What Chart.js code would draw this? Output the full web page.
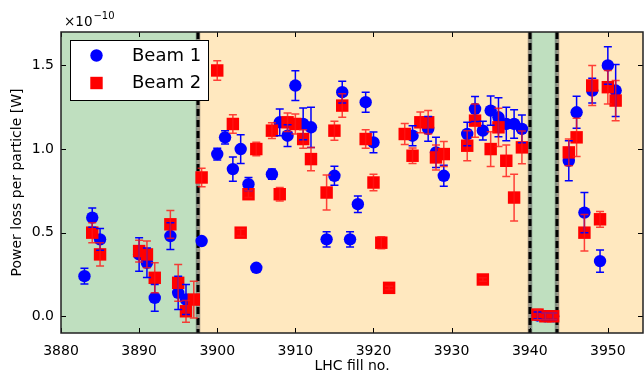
<!DOCTYPE html>
<html>
<head>
<meta charset="utf-8">
<script src="https://cdn.jsdelivr.net/npm/chart.js@4.4.1/dist/chart.umd.min.js"></script>
<style>
  html, body { margin: 0; padding: 0; background: #ffffff; }
  #wrap { position: relative; width: 644px; height: 375px; }
</style>
</head>
<body>
<div id="wrap"><canvas id="c" width="644" height="375"></canvas></div>
<script>
// Power loss per particle (units of 1e-10 W) for each LHC fill
const beam1Fills = [3883, 3884, 3885, 3890, 3891, 3892, 3894, 3895, 3896, 3898,
  3900, 3901, 3902, 3903, 3904, 3905, 3907, 3908, 3909, 3910, 3911, 3912,
  3914, 3915, 3916, 3917, 3918, 3919, 3920, 3925, 3927, 3928, 3929,
  3932, 3933, 3934, 3935, 3936, 3937, 3938, 3939, 3941, 3942, 3943,
  3945, 3946, 3947, 3948, 3949, 3950, 3951];
const beam1Loss = [0.24, 0.59, 0.46, 0.37, 0.32, 0.11, 0.48, 0.14, 0.10, 0.45,
  0.97, 1.07, 0.88, 1.00, 0.79, 0.29, 0.85, 1.16, 1.08, 1.38, 1.15, 1.13,
  0.46, 0.84, 1.34, 0.46, 0.67, 1.28, 1.04, 1.08, 1.12, 0.98, 0.84,
  1.09, 1.24, 1.11, 1.23, 1.19, 1.15, 1.15, 1.12, 0.005, 0.0, 0.0,
  0.93, 1.22, 0.62, 1.35, 0.33, 1.50, 1.35];
const beam1Err = [0.047, 0.057, 0.065, 0.10, 0.088, 0.08, 0.08, 0.10, 0.09, 0.02,
  0.035, 0.04, 0.072, 0.086, 0.04, 0.01, 0.03, 0.08, 0.065, 0.089, 0.095, 0.12,
  0.046, 0.057, 0.065, 0.045, 0.05, 0.06, 0.062, 0.06, 0.074, 0.09, 0.063,
  0.07, 0.075, 0.056, 0.087, 0.117, 0.10, 0.085, 0.083, 0.02, 0.02, 0.02,
  0.119, 0.096, 0.12, 0.074, 0.066, 0.112, 0.155];

const beam2Fills = [3884, 3885, 3890, 3891, 3892, 3894, 3895, 3896, 3897, 3898,
  3900, 3902, 3903, 3904, 3905, 3907, 3908, 3909, 3910, 3911, 3912,
  3914, 3915, 3916, 3919, 3920, 3921, 3922, 3924, 3925, 3926, 3927, 3928, 3929,
  3932, 3933, 3934, 3935, 3936, 3937, 3938, 3939, 3941, 3942, 3943,
  3945, 3946, 3947, 3948, 3949, 3950, 3951];
const beam2Loss = [0.50, 0.37, 0.39, 0.37, 0.23, 0.55, 0.20, 0.03, 0.10, 0.83,
  1.47, 1.15, 0.50, 0.73, 1.00, 1.11, 0.73, 1.16, 1.15, 1.06, 0.94,
  0.74, 1.11, 1.26, 1.06, 0.80, 0.44, 0.17, 1.09, 0.96, 1.16, 1.16, 0.95, 0.97,
  1.02, 1.17, 0.22, 1.00, 1.13, 0.93, 0.71, 1.01, 0.01, 0.0, 0.0,
  0.98, 1.07, 0.50, 1.38, 0.58, 1.37, 1.29];
const beam2Err = [0.06, 0.07, 0.065, 0.08, 0.09, 0.083, 0.11, 0.065, 0.11, 0.055,
  0.058, 0.055, 0.02, 0.02, 0.04, 0.047, 0.04, 0.055, 0.06, 0.055, 0.07,
  0.105, 0.057, 0.07, 0.055, 0.05, 0.036, 0.01, 0.063, 0.047, 0.062, 0.07, 0.075, 0.075,
  0.09, 0.10, 0.01, 0.104, 0.114, 0.094, 0.14, 0.098, 0.03, 0.02, 0.02,
  0.08, 0.114, 0.109, 0.119, 0.047, 0.10, 0.12];

// Beam-condition periods along the fill axis
const periodEdges = [3880, 3897.5, 3940, 3943.5, 3954.5];
const periodKinds = ['green', 'orange', 'green', 'orange'];

const xTicks = [3880, 3890, 3900, 3910, 3920, 3930, 3940, 3950];
const yTicks = [0.0, 0.5, 1.0, 1.5];

const FONT = '"DejaVu Sans", sans-serif';
const spanColor = { green: 'rgb(191,223,191)', orange: 'rgb(255,232,191)' };

function toPoints(xs, ys) { return xs.map((x, i) => ({ x: x, y: ys[i] })); }

const panelPlugin = {
  id: 'panel',
  beforeDatasetsDraw(chart) {
    const { ctx, chartArea: a, scales: { x, y } } = chart;
    ctx.save();
    ctx.beginPath(); ctx.rect(a.left, a.top, a.right - a.left, a.bottom - a.top); ctx.clip();
    for (let i = 0; i < periodKinds.length; i++) {
      const x0 = x.getPixelForValue(periodEdges[i]);
      const x1 = x.getPixelForValue(periodEdges[i + 1]);
      ctx.fillStyle = spanColor[periodKinds[i]];
      ctx.fillRect(x0, a.top, x1 - x0, a.bottom - a.top);
    }
    // boundaries between periods
    for (let i = 1; i < periodEdges.length - 1; i++) {
      const px = Math.round(x.getPixelForValue(periodEdges[i]));
      ctx.strokeStyle = 'rgba(90,90,90,0.6)';
      ctx.lineWidth = 4.5;
      ctx.setLineDash([]);
      ctx.beginPath(); ctx.moveTo(px, a.top); ctx.lineTo(px, a.bottom); ctx.stroke();
      ctx.strokeStyle = '#000';
      ctx.lineWidth = 3;
      ctx.setLineDash([7, 4]);
      ctx.beginPath(); ctx.moveTo(px, a.top); ctx.lineTo(px, a.bottom); ctx.stroke();
    }
    ctx.restore();
  },
  afterDatasetsDraw(chart) {
    const { ctx, chartArea: a, scales: { x, y } } = chart;
    ctx.save();
    ctx.beginPath(); ctx.rect(a.left, a.top, a.right - a.left, a.bottom - a.top); ctx.clip();
    const sets = [
      { xs: beam1Fills, ys: beam1Loss, es: beam1Err, color: 'rgb(0,0,255)' },
      { xs: beam2Fills, ys: beam2Loss, es: beam2Err, color: 'rgba(255,20,20,0.8)' }
    ];
    ctx.lineWidth = 1.5;
    sets.forEach(s => {
      ctx.strokeStyle = s.color;
      s.xs.forEach((fx, i) => {
        const px = x.getPixelForValue(fx);
        const yl = y.getPixelForValue(s.ys[i] - s.es[i]);
        const yh = y.getPixelForValue(s.ys[i] + s.es[i]);
        ctx.beginPath();
        ctx.moveTo(px, yl); ctx.lineTo(px, yh);
        ctx.moveTo(px - 4, yl); ctx.lineTo(px + 4, yl);
        ctx.moveTo(px - 4, yh); ctx.lineTo(px + 4, yh);
        ctx.stroke();
      });
    });
    ctx.restore();

    // frame with inward ticks on all four sides
    ctx.save();
    ctx.strokeStyle = '#000';
    ctx.lineWidth = 1;
    xTicks.forEach(t => {
      const px = Math.round(x.getPixelForValue(t)) + 0.5;
      ctx.beginPath();
      ctx.moveTo(px, a.bottom); ctx.lineTo(px, a.bottom - 5);
      ctx.moveTo(px, a.top); ctx.lineTo(px, a.top + 5);
      ctx.stroke();
    });
    yTicks.forEach(t => {
      const py = Math.round(y.getPixelForValue(t)) + 0.5;
      ctx.beginPath();
      ctx.moveTo(a.left, py); ctx.lineTo(a.left + 5, py);
      ctx.moveTo(a.right, py); ctx.lineTo(a.right - 5, py);
      ctx.stroke();
    });
    ctx.strokeStyle = '#222';
    ctx.lineWidth = 1.5;
    ctx.strokeRect(a.left, a.top, a.right - a.left, a.bottom - a.top);
    ctx.restore();
  },
  afterDraw(chart) {
    const { ctx, chartArea: a } = chart;
    ctx.save();
    // legend box
    const lx = 70.5, ly = 40.5, lw = 138, lh = 60;
    ctx.fillStyle = '#fff';
    ctx.fillRect(lx, ly, lw, lh);
    ctx.strokeStyle = '#000';
    ctx.lineWidth = 1;
    ctx.strokeRect(lx, ly, lw, lh);
    ctx.fillStyle = 'rgb(0,0,255)';
    ctx.beginPath(); ctx.arc(96.5, 55.5, 6.2, 0, Math.PI * 2); ctx.fill();
    ctx.fillStyle = 'rgb(255,0,0)';
    ctx.fillRect(96.5 - 6.2, 83 - 6.2, 12.4, 12.4);
    ctx.fillStyle = '#000';
    ctx.font = '18px ' + FONT;
    ctx.textBaseline = 'middle';
    ctx.textAlign = 'left';
    ctx.fillText('Beam 1', 132, 56);
    ctx.fillText('Beam 2', 132, 83);
    // axis multiplier
    ctx.textBaseline = 'alphabetic';
    ctx.font = '13.5px ' + FONT;
    ctx.fillText('\u00d710', a.left + 3, 26);
    const w = ctx.measureText('\u00d710').width;
    ctx.font = '10px ' + FONT;
    ctx.fillText('\u221210', a.left + 3 + w + 1, 19);
    ctx.restore();
  }
};

new Chart(document.getElementById('c'), {
  type: 'scatter',
  data: {
    datasets: [
      {
        label: 'Beam 1',
        data: toPoints(beam1Fills, beam1Loss),
        pointStyle: 'circle',
        pointRadius: 6.2,
        pointHoverRadius: 6.2,
        backgroundColor: 'rgb(0,0,255)',
        borderColor: 'rgb(0,0,255)',
        borderWidth: 0,
        order: 2
      },
      {
        label: 'Beam 2',
        data: toPoints(beam2Fills, beam2Loss),
        pointStyle: 'rect',
        pointRadius: 8.8,
        pointHoverRadius: 8.8,
        backgroundColor: 'rgb(255,0,0)',
        borderColor: 'rgb(255,0,0)',
        borderWidth: 0,
        order: 1
      }
    ]
  },
  options: {
    responsive: false,
    animation: false,
    events: [],
    layout: { autoPadding: false, padding: { top: 32, right: 1, bottom: 0, left: 0 } },
    plugins: { legend: { display: false }, tooltip: { enabled: false } },
    scales: {
      x: {
        type: 'linear',
        min: 3880,
        max: 3954.5,
        afterFit(s) { s.height = 42; s.paddingLeft = 0; s.paddingRight = 0; },
        afterBuildTicks(s) { s.ticks = xTicks.map(v => ({ value: v })); },
        grid: { display: false, drawTicks: false },
        border: { display: false },
        ticks: { color: '#000', padding: 10, maxRotation: 0, font: { family: FONT, size: 14 },
                 callback: v => String(v) },
        title: { display: true, text: 'LHC fill no.', color: '#000',
                 font: { family: FONT, size: 14, lineHeight: 1.2 }, padding: { top: 0, bottom: 0 } }
      },
      y: {
        type: 'linear',
        min: -0.1,
        max: 1.7,
        afterFit(s) { s.width = 61; s.paddingTop = 0; s.paddingBottom = 0; },
        afterBuildTicks(s) { s.ticks = yTicks.map(v => ({ value: v })); },
        grid: { display: false, drawTicks: false },
        border: { display: false },
        ticks: { color: '#000', padding: 7, font: { family: FONT, size: 14 },
                 callback: v => v.toFixed(1) },
        title: { display: true, text: 'Power loss per particle [W]', color: '#000',
                 font: { family: FONT, size: 14, lineHeight: 1.2 }, padding: { top: 9, bottom: 0 } }
      }
    }
  },
  plugins: [panelPlugin]
});
</script>
</body>
</html>
